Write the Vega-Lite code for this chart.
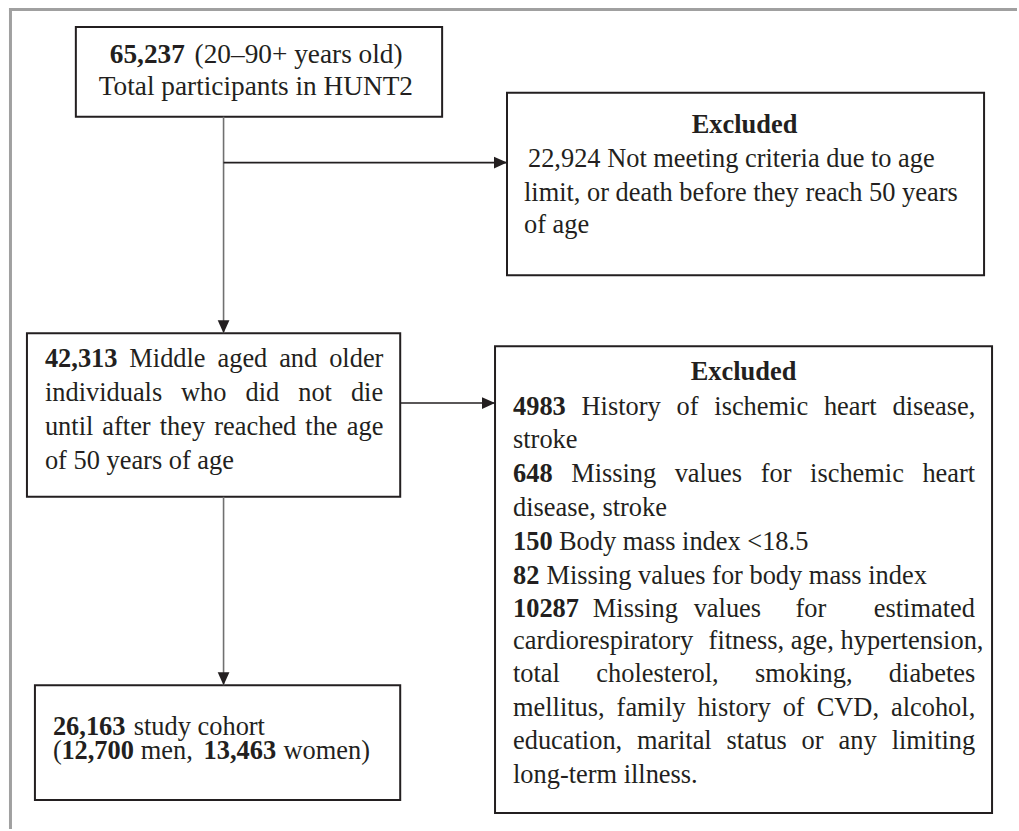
{
  "$schema": "https://vega.github.io/schema/vega-lite/v6.json",
  "width": 1019,
  "height": 831,
  "padding": 0,
  "autosize": {"type": "fit", "contains": "padding"},
  "background": "#ffffff",
  "config": {"view": {"stroke": null}},
  "datasets": {
    "frame": [
      {"side": "top", "x": 9, "y": 9.5, "x2": 1019, "y2": 9.5},
      {"side": "left", "x": 10.5, "y": 8, "x2": 10.5, "y2": 831}
    ],
    "boxes": [
      {"node": "HUNT2 total", "x": 76, "y": 27, "x2": 443, "y2": 117},
      {"node": "Excluded 1", "x": 508, "y": 93, "x2": 986, "y2": 276},
      {"node": "Middle aged", "x": 27, "y": 334, "x2": 401, "y2": 498},
      {"node": "Excluded 2", "x": 496, "y": 347, "x2": 994, "y2": 815},
      {"node": "Study cohort", "x": 35, "y": 687, "x2": 401, "y2": 802}
    ],
    "links": [
      {"from": "HUNT2 total", "to": "Middle aged", "dir": "down", "x": 224, "y": 117, "x2": 224, "y2": 334},
      {"from": "HUNT2 total", "to": "Excluded 1", "dir": "right", "x": 224, "y": 163, "x2": 508, "y2": 163},
      {"from": "Middle aged", "to": "Excluded 2", "dir": "right", "x": 401, "y": 404, "x2": 496, "y2": 404},
      {"from": "Middle aged", "to": "Study cohort", "dir": "down", "x": 224, "y": 498, "x2": 224, "y2": 687}
    ],
    "texts": [
      {"box": "top", "t": "65,237", "w": "b", "x": 110, "y": 63},
      {"box": "top", "t": "(20–90+ years old)", "w": "n", "x": 195, "y": 63},
      {"box": "top", "t": "Total participants in HUNT2", "w": "n", "x": 99, "y": 95},

      {"t": "Excluded", "w": "h", "x": 746, "y": 133},
      {"t": "22,924 Not meeting criteria due to age", "w": "n", "x": 529, "y": 167},
      {"t": "limit, or death before they reach 50 years", "w": "n", "x": 525, "y": 201},
      {"t": "of age", "w": "n", "x": 525, "y": 234},

      {"t": "42,313", "w": "b", "x": 45, "y": 368},
      {"t": "Middle", "w": "n", "x": 129.6, "y": 368},
      {"t": "aged", "w": "n", "x": 217.9, "y": 368},
      {"t": "and", "w": "n", "x": 279.7, "y": 368},
      {"t": "older", "w": "n", "x": 329.8, "y": 368},
      {"t": "individuals", "w": "n", "x": 45, "y": 402},
      {"t": "who", "w": "n", "x": 181.4, "y": 402},
      {"t": "did", "w": "n", "x": 246, "y": 402},
      {"t": "not", "w": "n", "x": 298.8, "y": 402},
      {"t": "die", "w": "n", "x": 351.6, "y": 402},
      {"t": "until", "w": "n", "x": 45, "y": 436},
      {"t": "after", "w": "n", "x": 102.5, "y": 436},
      {"t": "they", "w": "n", "x": 160.1, "y": 436},
      {"t": "reached", "w": "n", "x": 214.7, "y": 436},
      {"t": "the", "w": "n", "x": 305.9, "y": 436},
      {"t": "age", "w": "n", "x": 347.4, "y": 436},
      {"t": "of 50 years of age", "w": "n", "x": 45, "y": 470},

      {"t": "Excluded", "w": "h", "x": 745, "y": 381},
      {"t": "4983", "w": "b", "x": 514, "y": 416},
      {"t": "History", "w": "n", "x": 582.7, "y": 416},
      {"t": "of", "w": "n", "x": 677.8, "y": 416},
      {"t": "ischemic", "w": "n", "x": 715.7, "y": 416},
      {"t": "heart", "w": "n", "x": 825.5, "y": 416},
      {"t": "disease,", "w": "n", "x": 894.2, "y": 416},
      {"t": "stroke", "w": "n", "x": 514, "y": 449},
      {"t": "648", "w": "b", "x": 514, "y": 483},
      {"t": "Missing", "w": "n", "x": 572.3, "y": 483},
      {"t": "values", "w": "n", "x": 676, "y": 483},
      {"t": "for", "w": "n", "x": 762.2, "y": 483},
      {"t": "ischemic", "w": "n", "x": 811.7, "y": 483},
      {"t": "heart", "w": "n", "x": 924.2, "y": 483},
      {"t": "disease, stroke", "w": "n", "x": 514, "y": 517},
      {"t": "150", "w": "b", "x": 514, "y": 551},
      {"t": "Body mass index <18.5", "w": "n", "x": 560, "y": 551},
      {"t": "82", "w": "b", "x": 514, "y": 585},
      {"t": "Missing values for body mass index", "w": "n", "x": 547.5, "y": 585},
      {"t": "10287", "w": "b", "x": 514, "y": 618},
      {"t": "Missing", "w": "n", "x": 594, "y": 618},
      {"t": "values", "w": "n", "x": 695, "y": 618},
      {"t": "for", "w": "n", "x": 797, "y": 618},
      {"t": "estimated", "w": "n", "x": 875.5, "y": 618},
      {"t": "cardiorespiratory", "w": "n", "x": 514, "y": 651},
      {"t": "fitness, age, hypertension,", "w": "n", "x": 710, "y": 651},
      {"t": "total", "w": "n", "x": 514, "y": 684},
      {"t": "cholesterol,", "w": "n", "x": 597.5, "y": 684},
      {"t": "smoking,", "w": "n", "x": 756.5, "y": 684},
      {"t": "diabetes", "w": "n", "x": 890.6, "y": 684},
      {"t": "mellitus,", "w": "n", "x": 514, "y": 718},
      {"t": "family", "w": "n", "x": 617.8, "y": 718},
      {"t": "history", "w": "n", "x": 698.8, "y": 718},
      {"t": "of", "w": "n", "x": 784.2, "y": 718},
      {"t": "CVD,", "w": "n", "x": 818.3, "y": 718},
      {"t": "alcohol,", "w": "n", "x": 892.7, "y": 718},
      {"t": "education,", "w": "n", "x": 514, "y": 751},
      {"t": "marital", "w": "n", "x": 638.2, "y": 751},
      {"t": "status", "w": "n", "x": 728, "y": 751},
      {"t": "or", "w": "n", "x": 803.2, "y": 751},
      {"t": "any", "w": "n", "x": 840.2, "y": 751},
      {"t": "limiting", "w": "n", "x": 893.4, "y": 751},
      {"t": "long-term illness.", "w": "n", "x": 514, "y": 785},

      {"t": "26,163", "w": "b", "x": 53, "y": 737},
      {"t": "study cohort", "w": "n", "x": 134, "y": 737},
      {"t": "(", "w": "n", "x": 53, "y": 761},
      {"t": "12,700", "w": "b", "x": 61.5, "y": 761},
      {"t": "men,", "w": "n", "x": 141, "y": 761},
      {"t": "13,463", "w": "b", "x": 204, "y": 761},
      {"t": "women)", "w": "n", "x": 284, "y": 761}
    ]
  },
  "layer": [
    {
      "data": {"name": "frame"},
      "mark": {"type": "rule", "color": "#a0a0a0", "strokeWidth": 3},
      "encoding": {
        "x": {"field": "x", "type": "quantitative", "scale": {"domain": [0, 1019], "nice": false, "zero": false}, "axis": null},
        "y": {"field": "y", "type": "quantitative", "scale": {"domain": [0, 831], "nice": false, "zero": false, "reverse": true}, "axis": null},
        "x2": {"field": "x2"},
        "y2": {"field": "y2"}
      }
    },
    {
      "data": {"name": "boxes"},
      "mark": {"type": "rect", "fill": "#ffffff", "stroke": "#231f20", "strokeWidth": 2},
      "encoding": {
        "x": {"field": "x", "type": "quantitative", "scale": {"domain": [0, 1019], "nice": false, "zero": false}, "axis": null},
        "y": {"field": "y", "type": "quantitative", "scale": {"domain": [0, 831], "nice": false, "zero": false, "reverse": true}, "axis": null},
        "x2": {"field": "x2"},
        "y2": {"field": "y2"}
      }
    },
    {
      "data": {"name": "links"},
      "transform": [{"filter": "datum.dir == 'down'"}],
      "mark": {"type": "rule", "color": "#707070", "strokeWidth": 1.6},
      "encoding": {
        "x": {"field": "x", "type": "quantitative", "scale": {"domain": [0, 1019], "nice": false, "zero": false}, "axis": null},
        "y": {"field": "y", "type": "quantitative", "scale": {"domain": [0, 831], "nice": false, "zero": false, "reverse": true}, "axis": null},
        "x2": {"field": "x2"},
        "y2": {"field": "y2"}
      }
    },
    {
      "data": {"name": "links"},
      "transform": [{"filter": "datum.dir == 'right'"}],
      "mark": {"type": "rule", "color": "#231f20", "strokeWidth": 1.6},
      "encoding": {
        "x": {"field": "x", "type": "quantitative", "scale": {"domain": [0, 1019], "nice": false, "zero": false}, "axis": null},
        "y": {"field": "y", "type": "quantitative", "scale": {"domain": [0, 831], "nice": false, "zero": false, "reverse": true}, "axis": null},
        "x2": {"field": "x2"},
        "y2": {"field": "y2"}
      }
    },
    {
      "data": {"name": "links"},
      "transform": [{"filter": "datum.dir == 'down'"}],
      "mark": {"type": "point", "shape": "M-0.9,-2L0.9,-2L0,0Z", "size": 169, "filled": true, "color": "#231f20", "opacity": 1, "strokeWidth": 0},
      "encoding": {
        "x": {"field": "x2", "type": "quantitative", "scale": {"domain": [0, 1019], "nice": false, "zero": false}, "axis": null},
        "y": {"field": "y2", "type": "quantitative", "scale": {"domain": [0, 831], "nice": false, "zero": false, "reverse": true}, "axis": null}
      }
    },
    {
      "data": {"name": "links"},
      "transform": [{"filter": "datum.dir == 'right'"}],
      "mark": {"type": "point", "shape": "M-2,-0.9L0,0L-2,0.9Z", "size": 169, "filled": true, "color": "#231f20", "opacity": 1, "strokeWidth": 0},
      "encoding": {
        "x": {"field": "x2", "type": "quantitative", "scale": {"domain": [0, 1019], "nice": false, "zero": false}, "axis": null},
        "y": {"field": "y2", "type": "quantitative", "scale": {"domain": [0, 831], "nice": false, "zero": false, "reverse": true}, "axis": null}
      }
    },
    {
      "data": {"name": "texts"},
      "transform": [{"filter": "datum.w == 'n' && datum.box != 'top'"}],
      "mark": {"type": "text", "font": "Liberation Serif", "fontSize": 26.4, "align": "left", "baseline": "alphabetic", "color": "#231f20"},
      "encoding": {
        "x": {"field": "x", "type": "quantitative", "scale": {"domain": [0, 1019], "nice": false, "zero": false}, "axis": null},
        "y": {"field": "y", "type": "quantitative", "scale": {"domain": [0, 831], "nice": false, "zero": false, "reverse": true}, "axis": null},
        "text": {"field": "t"}
      }
    },
    {
      "data": {"name": "texts"},
      "transform": [{"filter": "datum.w == 'b' && datum.box != 'top'"}],
      "mark": {"type": "text", "font": "Liberation Serif", "fontSize": 26.4, "fontWeight": "bold", "align": "left", "baseline": "alphabetic", "color": "#231f20"},
      "encoding": {
        "x": {"field": "x", "type": "quantitative", "scale": {"domain": [0, 1019], "nice": false, "zero": false}, "axis": null},
        "y": {"field": "y", "type": "quantitative", "scale": {"domain": [0, 831], "nice": false, "zero": false, "reverse": true}, "axis": null},
        "text": {"field": "t"}
      }
    },
    {
      "data": {"name": "texts"},
      "transform": [{"filter": "datum.w == 'n' && datum.box == 'top'"}],
      "mark": {"type": "text", "font": "Liberation Serif", "fontSize": 27.3, "align": "left", "baseline": "alphabetic", "color": "#231f20"},
      "encoding": {
        "x": {"field": "x", "type": "quantitative", "scale": {"domain": [0, 1019], "nice": false, "zero": false}, "axis": null},
        "y": {"field": "y", "type": "quantitative", "scale": {"domain": [0, 831], "nice": false, "zero": false, "reverse": true}, "axis": null},
        "text": {"field": "t"}
      }
    },
    {
      "data": {"name": "texts"},
      "transform": [{"filter": "datum.w == 'b' && datum.box == 'top'"}],
      "mark": {"type": "text", "font": "Liberation Serif", "fontSize": 27.3, "fontWeight": "bold", "align": "left", "baseline": "alphabetic", "color": "#231f20"},
      "encoding": {
        "x": {"field": "x", "type": "quantitative", "scale": {"domain": [0, 1019], "nice": false, "zero": false}, "axis": null},
        "y": {"field": "y", "type": "quantitative", "scale": {"domain": [0, 831], "nice": false, "zero": false, "reverse": true}, "axis": null},
        "text": {"field": "t"}
      }
    },
    {
      "data": {"name": "texts"},
      "transform": [{"filter": "datum.w == 'h'"}],
      "mark": {"type": "text", "font": "Liberation Serif", "fontSize": 26.4, "fontWeight": "bold", "align": "center", "baseline": "alphabetic", "color": "#231f20"},
      "encoding": {
        "x": {"field": "x", "type": "quantitative", "scale": {"domain": [0, 1019], "nice": false, "zero": false}, "axis": null},
        "y": {"field": "y", "type": "quantitative", "scale": {"domain": [0, 831], "nice": false, "zero": false, "reverse": true}, "axis": null},
        "text": {"field": "t"}
      }
    }
  ]
}
